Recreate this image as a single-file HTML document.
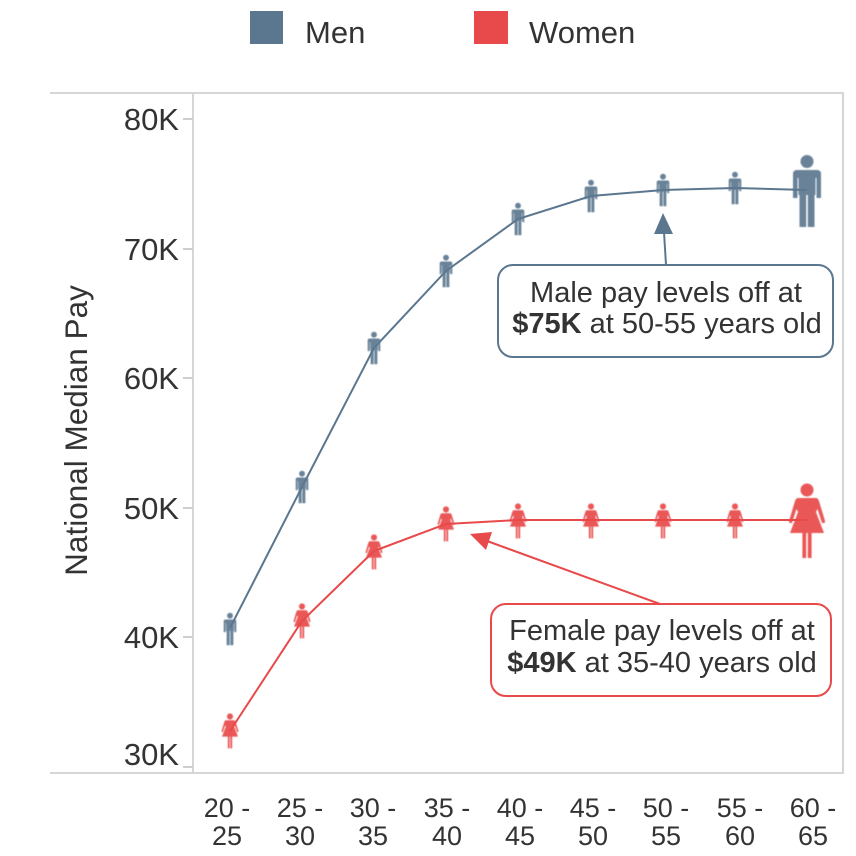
<!DOCTYPE html>
<html>
<head>
<meta charset="utf-8">
<style>
  html, body { margin: 0; padding: 0; background: #fff; }
  body { width: 856px; height: 856px; overflow: hidden; }
  svg { display: block; font-family: "Liberation Sans", Arial, sans-serif; }
</style>
</head>
<body>
<svg width="856" height="856" viewBox="0 0 856 856" xmlns="http://www.w3.org/2000/svg">
  <defs>
    <filter id="soft" x="-20%" y="-20%" width="140%" height="140%">
      <feGaussianBlur stdDeviation="0.5"/>
    </filter>
  </defs>
  <!-- Legend -->
  <rect x="250" y="11" width="33" height="33" fill="#5b778f"/>
  <text x="305" y="43" font-size="31" fill="#333">Men</text>
  <rect x="474" y="11" width="34" height="33" fill="#e8494a"/>
  <text x="529" y="43" font-size="31" fill="#333">Women</text>

  <!-- Frame -->
  <g stroke="#d6d6d6" stroke-width="2" fill="none">
    <line x1="50" y1="93" x2="844" y2="93"/>
    <line x1="50" y1="773" x2="844" y2="773"/>
    <line x1="193" y1="92" x2="193" y2="774"/>
    <line x1="843" y1="92" x2="843" y2="774"/>
  </g>
  <!-- Y ticks -->
  <g stroke="#cfcfcf" stroke-width="2">
    <line x1="183" y1="119" x2="193" y2="119"/>
    <line x1="183" y1="249" x2="193" y2="249"/>
    <line x1="183" y1="378" x2="193" y2="378"/>
    <line x1="183" y1="508" x2="193" y2="508"/>
    <line x1="183" y1="637" x2="193" y2="637"/>
    <line x1="183" y1="767" x2="193" y2="767"/>
  </g>
  <g font-size="31" fill="#333" text-anchor="end">
    <text x="179" y="130">80K</text>
    <text x="179" y="260">70K</text>
    <text x="179" y="389">60K</text>
    <text x="179" y="519">50K</text>
    <text x="179" y="648">40K</text>
    <text x="179" y="765">30K</text>
  </g>
  <text transform="translate(87,430.5) rotate(-90)" text-anchor="middle" font-size="31.5" fill="#333">National Median Pay</text>

  <!-- X labels -->
  <g font-size="27" fill="#333" text-anchor="middle">
    <text x="227" y="817">20 -</text><text x="227" y="845">25</text>
    <text x="300" y="817">25 -</text><text x="300" y="845">30</text>
    <text x="373" y="817">30 -</text><text x="373" y="845">35</text>
    <text x="447" y="817">35 -</text><text x="447" y="845">40</text>
    <text x="520" y="817">40 -</text><text x="520" y="845">45</text>
    <text x="593" y="817">45 -</text><text x="593" y="845">50</text>
    <text x="666" y="817">50 -</text><text x="666" y="845">55</text>
    <text x="740" y="817">55 -</text><text x="740" y="845">60</text>
    <text x="813" y="817">60 -</text><text x="813" y="845">65</text>
  </g>

  <!-- Lines -->
  <polyline fill="none" stroke="#5b778f" stroke-width="2"
    points="230,628 302,487 374,348 446,271 518,219 591,196 663,190 735,188 807,190"/>
  <polyline fill="none" stroke="#e8494a" stroke-width="2"
    points="230,731 302,621 374,551 446,524 518,520 591,520 663,520 735,520 807,520"/>

  <!-- Men icons -->
  <g fill="#5b778f" opacity="0.92" filter="url(#soft)">
    <g transform="translate(230,629) scale(0.45)">
      <circle cx="0" cy="-29.5" r="6.5"/>
      <path d="M-14,-17 Q-14,-21 -10,-21 L10,-21 Q14,-21 14,-17 L14,7 L9.5,7 L9.5,-13 L8.5,-13 L8.5,4 L-8.5,4 L-8.5,-13 L-9.5,-13 L-9.5,7 L-14,7 Z"/>
      <rect x="-7.5" y="2" width="6.7" height="34"/>
      <rect x="0.8" y="2" width="6.7" height="34"/>
    </g>
    <g transform="translate(302,487) scale(0.45)">
      <circle cx="0" cy="-29.5" r="6.5"/>
      <path d="M-14,-17 Q-14,-21 -10,-21 L10,-21 Q14,-21 14,-17 L14,7 L9.5,7 L9.5,-13 L8.5,-13 L8.5,4 L-8.5,4 L-8.5,-13 L-9.5,-13 L-9.5,7 L-14,7 Z"/>
      <rect x="-7.5" y="2" width="6.7" height="34"/>
      <rect x="0.8" y="2" width="6.7" height="34"/>
    </g>
    <g transform="translate(374,348) scale(0.45)">
      <circle cx="0" cy="-29.5" r="6.5"/>
      <path d="M-14,-17 Q-14,-21 -10,-21 L10,-21 Q14,-21 14,-17 L14,7 L9.5,7 L9.5,-13 L8.5,-13 L8.5,4 L-8.5,4 L-8.5,-13 L-9.5,-13 L-9.5,7 L-14,7 Z"/>
      <rect x="-7.5" y="2" width="6.7" height="34"/>
      <rect x="0.8" y="2" width="6.7" height="34"/>
    </g>
    <g transform="translate(446,271) scale(0.45)">
      <circle cx="0" cy="-29.5" r="6.5"/>
      <path d="M-14,-17 Q-14,-21 -10,-21 L10,-21 Q14,-21 14,-17 L14,7 L9.5,7 L9.5,-13 L8.5,-13 L8.5,4 L-8.5,4 L-8.5,-13 L-9.5,-13 L-9.5,7 L-14,7 Z"/>
      <rect x="-7.5" y="2" width="6.7" height="34"/>
      <rect x="0.8" y="2" width="6.7" height="34"/>
    </g>
    <g transform="translate(518,219) scale(0.45)">
      <circle cx="0" cy="-29.5" r="6.5"/>
      <path d="M-14,-17 Q-14,-21 -10,-21 L10,-21 Q14,-21 14,-17 L14,7 L9.5,7 L9.5,-13 L8.5,-13 L8.5,4 L-8.5,4 L-8.5,-13 L-9.5,-13 L-9.5,7 L-14,7 Z"/>
      <rect x="-7.5" y="2" width="6.7" height="34"/>
      <rect x="0.8" y="2" width="6.7" height="34"/>
    </g>
    <g transform="translate(591,196) scale(0.45)">
      <circle cx="0" cy="-29.5" r="6.5"/>
      <path d="M-14,-17 Q-14,-21 -10,-21 L10,-21 Q14,-21 14,-17 L14,7 L9.5,7 L9.5,-13 L8.5,-13 L8.5,4 L-8.5,4 L-8.5,-13 L-9.5,-13 L-9.5,7 L-14,7 Z"/>
      <rect x="-7.5" y="2" width="6.7" height="34"/>
      <rect x="0.8" y="2" width="6.7" height="34"/>
    </g>
    <g transform="translate(663,190) scale(0.45)">
      <circle cx="0" cy="-29.5" r="6.5"/>
      <path d="M-14,-17 Q-14,-21 -10,-21 L10,-21 Q14,-21 14,-17 L14,7 L9.5,7 L9.5,-13 L8.5,-13 L8.5,4 L-8.5,4 L-8.5,-13 L-9.5,-13 L-9.5,7 L-14,7 Z"/>
      <rect x="-7.5" y="2" width="6.7" height="34"/>
      <rect x="0.8" y="2" width="6.7" height="34"/>
    </g>
    <g transform="translate(735,188) scale(0.45)">
      <circle cx="0" cy="-29.5" r="6.5"/>
      <path d="M-14,-17 Q-14,-21 -10,-21 L10,-21 Q14,-21 14,-17 L14,7 L9.5,7 L9.5,-13 L8.5,-13 L8.5,4 L-8.5,4 L-8.5,-13 L-9.5,-13 L-9.5,7 L-14,7 Z"/>
      <rect x="-7.5" y="2" width="6.7" height="34"/>
      <rect x="0.8" y="2" width="6.7" height="34"/>
    </g>
    <g transform="translate(807,191) scale(1)">
      <circle cx="0" cy="-29.5" r="6.5"/>
      <path d="M-14,-17 Q-14,-21 -10,-21 L10,-21 Q14,-21 14,-17 L14,7 L9.5,7 L9.5,-13 L8.5,-13 L8.5,4 L-8.5,4 L-8.5,-13 L-9.5,-13 L-9.5,7 L-14,7 Z"/>
      <rect x="-7.5" y="2" width="6.7" height="34"/>
      <rect x="0.8" y="2" width="6.7" height="34"/>
    </g>
  </g>

  <!-- Women icons -->
  <g fill="#e8494a" opacity="0.92" filter="url(#soft)">
    <g transform="translate(230,731) scale(0.47)">
      <circle cx="0" cy="-31" r="6.5"/>
      <path d="M-9,-23 L9,-23 Q11,-23 12,-20 L18,0 Q18.5,2 16.5,2 L15,2 L10.5,-12 L9,-9 L17,12 L-17,12 L-9,-9 L-10.5,-12 L-15,2 L-16.5,2 Q-18.5,2 -18,0 L-12,-20 Q-11,-23 -9,-23 Z"/>
      <rect x="-4.6" y="11" width="3.8" height="26"/>
      <rect x="0.8" y="11" width="3.8" height="26"/>
    </g>
    <g transform="translate(302,621) scale(0.47)">
      <circle cx="0" cy="-31" r="6.5"/>
      <path d="M-9,-23 L9,-23 Q11,-23 12,-20 L18,0 Q18.5,2 16.5,2 L15,2 L10.5,-12 L9,-9 L17,12 L-17,12 L-9,-9 L-10.5,-12 L-15,2 L-16.5,2 Q-18.5,2 -18,0 L-12,-20 Q-11,-23 -9,-23 Z"/>
      <rect x="-4.6" y="11" width="3.8" height="26"/>
      <rect x="0.8" y="11" width="3.8" height="26"/>
    </g>
    <g transform="translate(374,552) scale(0.47)">
      <circle cx="0" cy="-31" r="6.5"/>
      <path d="M-9,-23 L9,-23 Q11,-23 12,-20 L18,0 Q18.5,2 16.5,2 L15,2 L10.5,-12 L9,-9 L17,12 L-17,12 L-9,-9 L-10.5,-12 L-15,2 L-16.5,2 Q-18.5,2 -18,0 L-12,-20 Q-11,-23 -9,-23 Z"/>
      <rect x="-4.6" y="11" width="3.8" height="26"/>
      <rect x="0.8" y="11" width="3.8" height="26"/>
    </g>
    <g transform="translate(446,524) scale(0.47)">
      <circle cx="0" cy="-31" r="6.5"/>
      <path d="M-9,-23 L9,-23 Q11,-23 12,-20 L18,0 Q18.5,2 16.5,2 L15,2 L10.5,-12 L9,-9 L17,12 L-17,12 L-9,-9 L-10.5,-12 L-15,2 L-16.5,2 Q-18.5,2 -18,0 L-12,-20 Q-11,-23 -9,-23 Z"/>
      <rect x="-4.6" y="11" width="3.8" height="26"/>
      <rect x="0.8" y="11" width="3.8" height="26"/>
    </g>
    <g transform="translate(518,521) scale(0.47)">
      <circle cx="0" cy="-31" r="6.5"/>
      <path d="M-9,-23 L9,-23 Q11,-23 12,-20 L18,0 Q18.5,2 16.5,2 L15,2 L10.5,-12 L9,-9 L17,12 L-17,12 L-9,-9 L-10.5,-12 L-15,2 L-16.5,2 Q-18.5,2 -18,0 L-12,-20 Q-11,-23 -9,-23 Z"/>
      <rect x="-4.6" y="11" width="3.8" height="26"/>
      <rect x="0.8" y="11" width="3.8" height="26"/>
    </g>
    <g transform="translate(591,521) scale(0.47)">
      <circle cx="0" cy="-31" r="6.5"/>
      <path d="M-9,-23 L9,-23 Q11,-23 12,-20 L18,0 Q18.5,2 16.5,2 L15,2 L10.5,-12 L9,-9 L17,12 L-17,12 L-9,-9 L-10.5,-12 L-15,2 L-16.5,2 Q-18.5,2 -18,0 L-12,-20 Q-11,-23 -9,-23 Z"/>
      <rect x="-4.6" y="11" width="3.8" height="26"/>
      <rect x="0.8" y="11" width="3.8" height="26"/>
    </g>
    <g transform="translate(663,521) scale(0.47)">
      <circle cx="0" cy="-31" r="6.5"/>
      <path d="M-9,-23 L9,-23 Q11,-23 12,-20 L18,0 Q18.5,2 16.5,2 L15,2 L10.5,-12 L9,-9 L17,12 L-17,12 L-9,-9 L-10.5,-12 L-15,2 L-16.5,2 Q-18.5,2 -18,0 L-12,-20 Q-11,-23 -9,-23 Z"/>
      <rect x="-4.6" y="11" width="3.8" height="26"/>
      <rect x="0.8" y="11" width="3.8" height="26"/>
    </g>
    <g transform="translate(735,521) scale(0.47)">
      <circle cx="0" cy="-31" r="6.5"/>
      <path d="M-9,-23 L9,-23 Q11,-23 12,-20 L18,0 Q18.5,2 16.5,2 L15,2 L10.5,-12 L9,-9 L17,12 L-17,12 L-9,-9 L-10.5,-12 L-15,2 L-16.5,2 Q-18.5,2 -18,0 L-12,-20 Q-11,-23 -9,-23 Z"/>
      <rect x="-4.6" y="11" width="3.8" height="26"/>
      <rect x="0.8" y="11" width="3.8" height="26"/>
    </g>
    <g transform="translate(807,521) scale(1)">
      <circle cx="0" cy="-31" r="6.5"/>
      <path d="M-9,-23 L9,-23 Q11,-23 12,-20 L18,0 Q18.5,2 16.5,2 L15,2 L10.5,-12 L9,-9 L17,12 L-17,12 L-9,-9 L-10.5,-12 L-15,2 L-16.5,2 Q-18.5,2 -18,0 L-12,-20 Q-11,-23 -9,-23 Z"/>
      <rect x="-4.6" y="11" width="3.8" height="26"/>
      <rect x="0.8" y="11" width="3.8" height="26"/>
    </g>
  </g>

  <!-- Male annotation -->
  <line x1="664" y1="232" x2="666" y2="265" stroke="#5b778f" stroke-width="2"/>
  <polygon points="663,213 654,234 673,234" fill="#5b778f"/>
  <rect x="498" y="265" width="335" height="92" rx="15" ry="15" fill="#fff" stroke="#5b778f" stroke-width="2"/>
  <text x="666" y="302" font-size="29" fill="#333" text-anchor="middle">Male pay levels off at</text>
  <text x="667" y="333" font-size="29" fill="#333" text-anchor="middle"><tspan font-weight="bold">$75K</tspan> at 50-55 years old</text>

  <!-- Female annotation -->
  <line x1="660" y1="604" x2="487" y2="541" stroke="#e8494a" stroke-width="2"/>
  <polygon points="470,534 492,532 486,550" fill="#e8494a"/>
  <rect x="491" y="604" width="340" height="92" rx="15" ry="15" fill="#fff" stroke="#e8494a" stroke-width="2"/>
  <text x="662" y="640" font-size="29" fill="#333" text-anchor="middle">Female pay levels off at</text>
  <text x="662" y="672" font-size="29" fill="#333" text-anchor="middle"><tspan font-weight="bold">$49K</tspan> at 35-40 years old</text>
</svg>
</body>
</html>
